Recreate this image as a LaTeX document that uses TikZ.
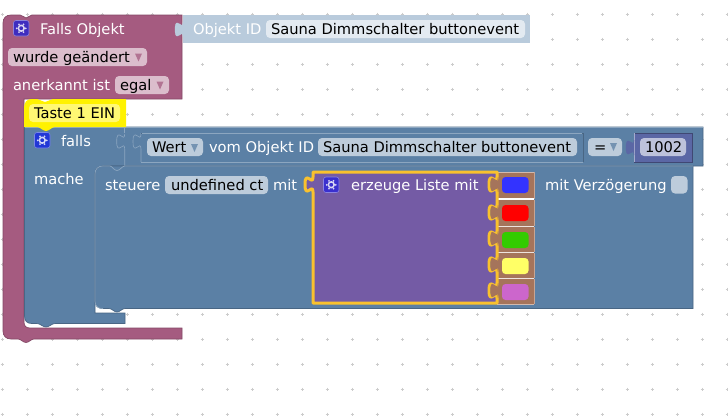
\documentclass[tikz,border=0pt]{standalone}
\usepackage{fontspec}
\setmainfont{DejaVu Sans}
\usetikzlibrary{calc}
\definecolor{pinkb}{HTML}{A55B80}
\definecolor{pinkd}{HTML}{844966}
\definecolor{pinkf}{HTML}{DBBDCC}
\definecolor{blueb}{HTML}{5B80A5}
\definecolor{blued}{HTML}{496684}
\definecolor{bluel}{HTML}{8CA6C0}
\definecolor{bluef}{HTML}{BDCCDB}
\definecolor{paleb}{HTML}{B9CBDC}
\definecolor{palef}{HTML}{E3EAF1}
\definecolor{purpb}{HTML}{745BA5}
\definecolor{gold}{HTML}{F9C12E}
\definecolor{brownb}{HTML}{A5745B}
\definecolor{numb}{HTML}{5B67A5}
\definecolor{numf}{HTML}{BDC2DB}
\definecolor{griddot}{HTML}{CCCCCC}
\definecolor{icona}{HTML}{3F2DBF}
\definecolor{iconb}{HTML}{2237D6}
\definecolor{iconc}{HTML}{3A30CE}
\definecolor{swa}{HTML}{3333FF}
\definecolor{swb}{HTML}{FF0000}
\definecolor{swc}{HTML}{33CC00}
\definecolor{swd}{HTML}{FFFF66}
\definecolor{swe}{HTML}{CC66CC}
\tikzset{
  lbl/.style={anchor=base west,inner sep=0pt,outer sep=0pt,font=\fontsize{14.67}{17}\selectfont,text=white},
  fldtxt/.style={anchor=base west,inner sep=0pt,outer sep=0pt,font=\fontsize{14.67}{17}\selectfont,text=black},
  fld/.style={rounded corners=4pt,draw=none},
}
\newcommand{\ptab}[5]{\path[fill=#3,draw=#4,line width=#5] (#1,#2) .. controls (#1,#2+10) and (#1-8,#2-8) .. (#1-8,#2+7.5) .. controls (#1-8,#2+23) and (#1,#2+5) .. (#1,#2+15);}
\newcommand{\gearicon}[3]{%
  \path[fill=#3,draw=#3!60!white,line width=0.6pt,rounded corners=2.5pt] (#1,#2) rectangle (#1+15.5,#2+15.5);
  \path[draw=white!80!#3,line width=1.5pt] (#1+7.75,#2+7.75) circle (2.9pt);
  \foreach \a in {0,60,...,300}{\path[fill=white!80!#3] ($(#1+7.75,#2+7.75)+(\a:4.5pt)$) circle (1pt);}
}
\begin{document}
\begin{tikzpicture}[x=1pt,y=-1pt]
\useasboundingbox (0,0) rectangle (728,418);
\path[fill=white] (0,0) rectangle (728,418);
% grid
\foreach \i in {0,...,29}{\foreach \j in {0,...,16}{
  \path[draw=griddot,line width=0.8pt] (2+25*\i-1.5,14+25*\j) -- ++(3,0) (2+25*\i,14+25*\j-1.5) -- ++(0,3);
}}
% pink block
\path[fill=pinkb,draw=pinkd,line width=0.7pt]
  (11,15) -- (20,15) .. controls (23,15) and (24,18) .. (26,18) .. controls (28,18) and (30,15) .. (32,15)
  -- (182,15) -- (182,99) -- (24,99) -- (24,322) .. controls (24,326) and (26,328) .. (30,328) -- (182,328) -- (182,339) -- (34,339)
  .. controls (31,339) and (29,342.5) .. (26,342.5) .. controls (23,342.5) and (21,339) .. (18,339) -- (11,339)
  .. controls (6,339) and (3,336) .. (3,331) -- (3,23) .. controls (3,18) and (6,15) .. (11,15) -- cycle;
% Objekt ID block
\path[fill=paleb] (183,15) rectangle (530,43);
\ptab{183}{22}{paleb}{paleb}{0.3pt}
\path[fill=palef,fld] (266,20) rectangle (525,38);
\node[lbl] (objid) at (193,34) {Objekt ID};
\node[fldtxt] (objname) at (271,34) {Sauna Dimmschalter buttonevent};
% pink labels
\gearicon{13.5}{20.5}{icona}
\node[lbl] (fallsobj) at (40,34) {Falls Objekt};
\path[fill=pinkf,fld] (8,48) rectangle (147,66);
\node[fldtxt] (geaendert) at (13,62) {wurde geändert};
\path[fill=pinkb!85!white] (135,53.5) -- (142,53.5) -- (138.5,61.5) -- cycle;
\node[lbl] (anerkannt) at (13,90) {anerkannt ist};
\path[fill=pinkf,fld] (115,76) rectangle (169,94);
\node[fldtxt] (egal) at (120,90) {egal};
\path[fill=pinkb!85!white] (156.5,81.5) -- (163.5,81.5) -- (160,89.5) -- cycle;
% blue if block
\path[fill=blueb,draw=blued,line width=0.7pt]
  (24.5,127) -- (703,127) -- (703,166) -- (125,166) -- (125,166) -- (105,166) .. controls (99,166) and (95,168) .. (95,174)
  -- (95,313) -- (125,313) -- (125,323.5) -- (55,323.5) .. controls (52,323.5) and (49,327) .. (46,327) .. controls (43,327) and (40,323.5) .. (37,323.5)
  -- (32,323.5) .. controls (27,323.5) and (24.5,321) .. (24.5,316) -- cycle;
\path[draw=bluel,line width=0.6pt] (24.5,127) -- (703,127);
\path[draw=bluel,line width=0.6pt] (124.7,127) -- (124.7,133);
\path[draw=bluel,line width=0.6pt] (124.7,134) .. controls (124.7,144) and (116.7,126) .. (116.7,141.5) .. controls (116.7,157) and (124.7,139) .. (124.7,149) -- (124.7,166);
% steuere block
\path[fill=blueb,draw=blued,line width=0.7pt]
  (103,166) -- (693,166) -- (693,308.5) -- (125,308.5) .. controls (122,308.5) and (120,312) .. (117,312) .. controls (114,312) and (112,308.5) .. (109,308.5)
  -- (103,308.5) .. controls (98,308.5) and (95,306) .. (95,301) -- (95,174) .. controls (95,169) and (98,166) .. (103,166) -- cycle;
\path[draw=bluel,line width=0.7pt]
  (95,301) -- (95,174) .. controls (95,169) and (98,166) .. (103,166) -- (110,166) .. controls (112,166) and (114,170.5) .. (117,170.5) .. controls (120,170.5) and (122,166) .. (125,166) -- (693,166);
\path[draw=bluel,line width=0.7pt] (95,301) .. controls (95,306) and (98,308.5) .. (103,308.5);
% condition block
\path[fill=blueb,draw=bluel,line width=0.6pt] (141,133) -- (141,134) .. controls (141,144) and (133,126) .. (133,141.5) .. controls (133,157) and (141,139) .. (141,149) -- (141,162);
\path[draw=blued,line width=0.7pt] (141,133) -- (583,133) -- (583,162);
\path[draw=bluel,line width=0.7pt] (141,162) -- (583,162);
\path[draw=bluel,line width=0.7pt] (141.5,133.5) -- (582,133.5);
\path[fill=bluef,fld] (147,138) rectangle (203,156);
\node[fldtxt] (wert) at (152,152) {Wert};
\path[fill=blueb!85!white] (191,144) -- (198,144) -- (194.5,152) -- cycle;
\node[lbl] (vom) at (209,152) {vom Objekt ID};
\path[fill=bluef,fld] (318,138) rectangle (577,156);
\node[fldtxt] (sauna) at (323,152) {Sauna Dimmschalter buttonevent};
\path[fill=bluef,fld] (588,138) rectangle (622,156);
\node[fldtxt] (eq) at (594,152) {=};
\path[fill=blueb!85!white] (610,143) -- (617,143) -- (613.5,151) -- cycle;
% number block
\path[fill=numb,draw=none] (634,133) rectangle (692,162);
\path[draw=numb!70!black,line width=0.7pt] (634,133) -- (692,133) -- (692,162) -- (634,162);
\path[draw=numb!55!white,line width=0.7pt] (634,162) -- (634,133);
\ptab{634}{140}{numb}{numb}{0.3pt}
\path[fill=numf,fld] (640,138) rectangle (686,156);
\node[fldtxt] (num) at (645,152) {1002};
% if labels
\gearicon{34.5}{132.5}{iconb}
\node[lbl] (falls) at (61,146) {falls};
\node[lbl] (mache) at (34,184) {mache};
% comment (yellow)
\path[fill=yellow] (24,108) .. controls (24,102) and (27,99) .. (32,99) -- (37,99) .. controls (40,99) and (42,102) .. (45,102) .. controls (48,102) and (50,99) .. (53,99) -- (126,99) -- (126,127)
  -- (55,127) .. controls (52,127) and (49,131) .. (46,131) .. controls (43,131) and (40,127) .. (37,127) -- (24,127) -- cycle;
\path[fill=yellow!55!white,fld] (29,104) rectangle (120,122);
\node[fldtxt] (taste) at (34,118) {Taste 1 EIN};
% steuere row
\node[lbl] (steuere) at (105,190) {steuere};
\path[fill=bluef,fld] (165,176) rectangle (268,194);
\node[fldtxt] (undef) at (171,190) {undefined ct};
\node[lbl] (mit) at (273,190) {mit};
% colour blocks
\foreach \ya/\yb/\c in {172/199/swa,200/226/swb,227/252/swc,253/278/swd,279/304/swe}{
  \path[fill=brownb] (497,\ya) rectangle (534,\yb);
  \path[fill=\c,rounded corners=3.5pt] (502,\ya+5) rectangle (528.5,\ya+21);
  \path[draw=brownb!65!white,line width=0.5pt] (534,\ya) -- (534,\yb);
}
\path[draw=brownb!50!white,line width=0.6pt] (497,172) -- (534,172);
\path[draw=white,line width=1.6pt] (497,199) -- (534,199);
\path[draw=white!80!brownb,line width=0.7pt] (497,226.5) -- (534,226.5) (497,252.5) -- (534,252.5) (497,278.5) -- (534,278.5);
\path[draw=brownb!50!white,line width=0.6pt] (497,304.5) -- (534,304.5);
% list block
\path[fill=purpb,draw=gold,line width=3pt,line join=round]
  (313,172) -- (497,172)
  -- (497,177) .. controls (497,187) and (489,169) .. (489,184.5) .. controls (489,200) and (497,182) .. (497,192)
  -- (497,205) .. controls (497,215) and (489,197) .. (489,212.5) .. controls (489,228) and (497,210) .. (497,220)
  -- (497,231) .. controls (497,241) and (489,223) .. (489,238.5) .. controls (489,254) and (497,236) .. (497,246)
  -- (497,257) .. controls (497,267) and (489,249) .. (489,264.5) .. controls (489,280) and (497,262) .. (497,272)
  -- (497,283) .. controls (497,293) and (489,275) .. (489,290.5) .. controls (489,306) and (497,288) .. (497,298)
  -- (497,303) -- (313,303) -- (313,192)
  .. controls (313,182) and (305,200) .. (305,184.5) .. controls (305,169) and (313,187) .. (313,177) -- cycle;
\foreach \yy in {177,205,231,257,283}{
  \path[fill=brownb] (497.6,\yy) .. controls (497.6,\yy+10) and (490.4,\yy-8) .. (490.4,\yy+7.5) .. controls (490.4,\yy+23) and (497.6,\yy+5) .. (497.6,\yy+15) -- cycle;
}
\gearicon{323.5}{177}{iconc}
\node[lbl] (erzeuge) at (351,190) {erzeuge Liste mit};
% delay
\node[lbl] (verz) at (545,190) {mit Verzögerung};
\path[fill=bluef,fld] (671,176) rectangle (687.5,193.5);
\end{tikzpicture}
\end{document}
